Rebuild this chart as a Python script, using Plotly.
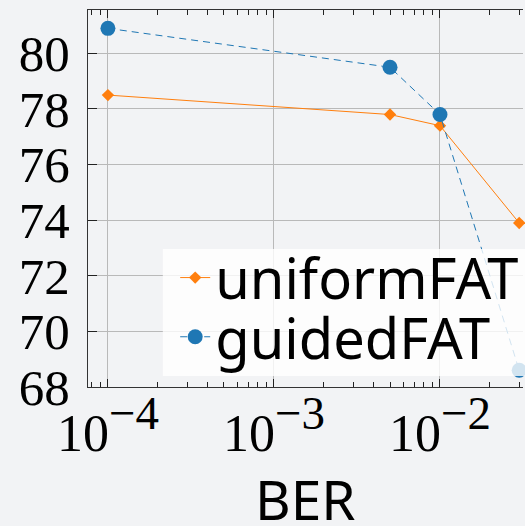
import plotly.graph_objects as go

# Bit error rate levels and accuracy of each training scheme
ber = [1e-4, 5e-3, 1e-2, 3e-2]
uniform_fat = [78.5, 77.8, 77.4, 73.9]
guided_fat = [80.9, 79.5, 77.8, 68.6]

x_major = [1e-4, 1e-3, 1e-2]
x_major_text = [
    "10<sup><span style='font-size:47px'>−%d</span></sup>" % e for e in (4, 3, 2)
]
x_minor = [m * 10.0 ** e for e in (-5, -4, -3, -2) for m in range(2, 10)]
y_ticks = [68, 70, 72, 74, 76, 78, 80]

BG = "#f2f3f5"
GRID = "#b9b9b9"
serif = "Liberation Serif"
sans = "Noto Sans"
legend_font = dict(family=sans, size=56, color="black")

fig = go.Figure()
fig.add_trace(go.Scatter(
    x=ber, y=uniform_fat, name="uniformFAT", mode="lines+markers",
    line=dict(color="#ff7f0e", width=1),
    marker=dict(symbol="diamond", size=9.5, color="#ff7f0e"),
    cliponaxis=False, legend="legend",
))
fig.add_trace(go.Scatter(
    x=ber, y=guided_fat, name="guidedFAT", mode="lines+markers",
    line=dict(color="#1f77b4", width=1, dash="7px,5px"),
    marker=dict(symbol="circle", size=15, color="#1f77b4"),
    cliponaxis=False, legend="legend2",
))

# translucent white panel behind the two legend entries
fig.add_shape(
    type="rect", xref="paper", yref="paper",
    x0=0.172, x1=1.05, y0=0.029, y1=0.366,
    fillcolor="rgba(255,255,255,0.8)", line=dict(width=0), layer="above",
)

# x-axis title
fig.add_annotation(
    text="BER", xref="paper", yref="paper", x=0.5, y=-0.296,
    xanchor="center", yanchor="middle", showarrow=False,
    font=dict(family=sans, size=55, color="black"),
)

legend_common = dict(
    xanchor="left", yanchor="middle", x=0.2,
    bgcolor="rgba(0,0,0,0)", borderwidth=0, font=legend_font,
)

fig.update_layout(
    width=525, height=526,
    margin=dict(l=88, r=1, t=10, b=139),
    paper_bgcolor=BG, plot_bgcolor=BG,
    showlegend=True,
    legend=dict(y=0.29, **legend_common),
    legend2=dict(y=0.133, **legend_common),
    xaxis=dict(
        type="log", range=[-4.12, -1.5],
        tickvals=x_major, ticktext=x_major_text,
        ticks="inside", ticklen=8, tickwidth=1, tickcolor="#222",
        showline=True, linecolor="#333", linewidth=1.2, mirror="ticks",
        showgrid=True, gridcolor=GRID, gridwidth=1,
        zeroline=False, automargin=False,
        tickfont=dict(family=serif, size=52, color="black"),
        minor=dict(tickvals=x_minor, ticks="inside", ticklen=5,
                   tickcolor="#222", showgrid=False),
    ),
    yaxis=dict(
        range=[68, 81.56], tickvals=y_ticks,
        ticks="inside", ticklen=9, tickwidth=1, tickcolor="#222",
        showline=True, linecolor="#333", linewidth=1.2, mirror=False,
        showgrid=True, gridcolor=GRID, gridwidth=1,
        zeroline=False, automargin=False,
        tickfont=dict(family=serif, size=51, color="black"),
        ticklabelstandoff=7,
    ),
)

fig.write_html("out.html")
